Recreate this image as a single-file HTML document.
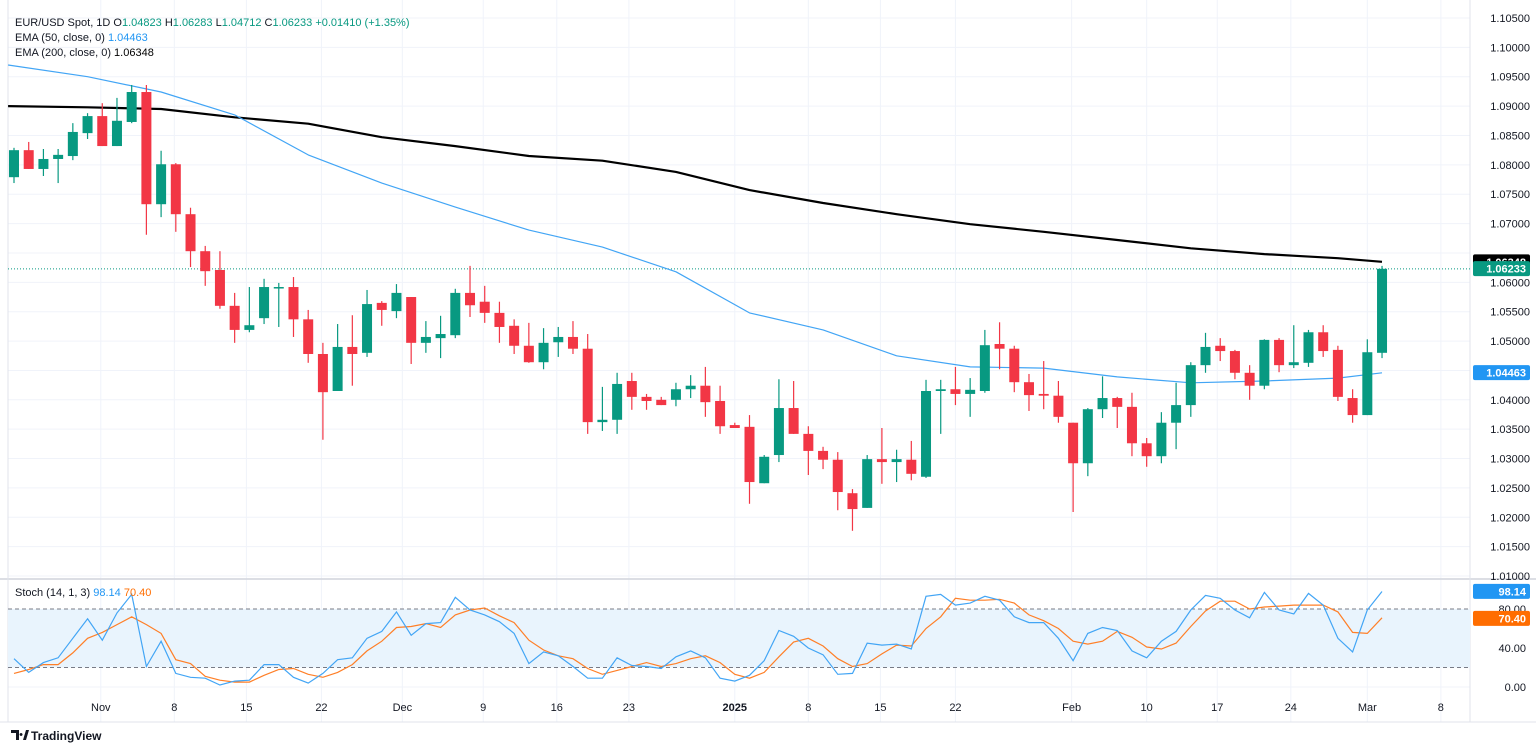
<!DOCTYPE html>
<html><head><meta charset="utf-8">
<style>
body{margin:0;background:#fff;font-family:"Liberation Sans",sans-serif;}
#wrap{position:relative;width:1536px;height:752px;overflow:hidden;background:#fff;}
svg text{font-family:"Liberation Sans",sans-serif;}
</style></head>
<body>
<div id="wrap">
<svg id="chart" width="1536" height="752"></svg>
</div>
<script>
const opens=[1.0779,1.0825,1.0793,1.0810,1.0815,1.0854,1.0883,1.0832,1.0873,1.0924,1.0733,1.0801,1.0716,1.0653,1.0621,1.0560,1.0519,1.0539,1.0590,1.0592,1.0537,1.0478,1.0415,1.0490,1.0480,1.0565,1.0551,1.0575,1.0497,1.0505,1.0510,1.0582,1.0567,1.0548,1.0526,1.0492,1.0464,1.0498,1.0507,1.0487,1.0362,1.0366,1.0432,1.0405,1.0400,1.0400,1.0418,1.0424,1.0398,1.0357,1.0354,1.0258,1.0306,1.0386,1.0342,1.0313,1.0298,1.0241,1.0216,1.0299,1.0294,1.0298,1.0269,1.0415,1.0418,1.0410,1.0415,1.0495,1.0487,1.0430,1.0410,1.0407,1.0361,1.0292,1.0384,1.0403,1.0388,1.0326,1.0304,1.0361,1.0391,1.0459,1.0492,1.0483,1.0446,1.0424,1.0502,1.0459,1.0463,1.0515,1.0485,1.0403,1.0374,1.0480];
const highs=[1.0829,1.0839,1.0827,1.0827,1.0871,1.0888,1.0905,1.0914,1.0936,1.0936,1.0824,1.0803,1.0727,1.0662,1.0653,1.0582,1.0592,1.0606,1.0599,1.0609,1.0553,1.0497,1.0529,1.0544,1.0587,1.0568,1.0597,1.0575,1.0534,1.0543,1.0589,1.0628,1.0594,1.0567,1.0537,1.0531,1.0522,1.0524,1.0534,1.0512,1.0422,1.0446,1.0446,1.0410,1.0405,1.0429,1.0442,1.0456,1.0424,1.0361,1.0374,1.0306,1.0435,1.0432,1.0355,1.0320,1.0311,1.0248,1.0306,1.0352,1.0315,1.0330,1.0434,1.0434,1.0456,1.0437,1.0519,1.0532,1.0492,1.0444,1.0466,1.0432,1.0361,1.0386,1.0440,1.0405,1.0412,1.0335,1.0379,1.0429,1.0464,1.0514,1.0505,1.0485,1.0459,1.0503,1.0505,1.0527,1.0519,1.0527,1.0492,1.0418,1.0503,1.0628];
const lows=[1.0769,1.0793,1.0781,1.0769,1.0808,1.0844,1.0832,1.0832,1.0871,1.0681,1.0711,1.0686,1.0626,1.0594,1.0555,1.0497,1.0515,1.0529,1.0524,1.0507,1.0463,1.0332,1.0415,1.0424,1.0473,1.0526,1.0539,1.0461,1.0480,1.0471,1.0505,1.0541,1.0531,1.0497,1.0478,1.0463,1.0452,1.0473,1.0478,1.0342,1.0347,1.0342,1.0383,1.0383,1.0391,1.0389,1.0403,1.0371,1.0342,1.0352,1.0223,1.0258,1.0294,1.0342,1.0272,1.0282,1.0212,1.0177,1.0216,1.0257,1.0260,1.0263,1.0267,1.0342,1.0391,1.0371,1.0412,1.0452,1.0413,1.0381,1.0384,1.0361,1.0209,1.0270,1.0369,1.0352,1.0304,1.0286,1.0292,1.0316,1.0371,1.0446,1.0466,1.0435,1.0400,1.0418,1.0447,1.0454,1.0456,1.0473,1.0398,1.0361,1.0374,1.0471];
const closes=[1.0825,1.0793,1.0810,1.0817,1.0856,1.0883,1.0832,1.0875,1.0924,1.0733,1.0801,1.0716,1.0653,1.0619,1.0560,1.0519,1.0527,1.0592,1.0592,1.0537,1.0478,1.0413,1.0490,1.0478,1.0563,1.0553,1.0582,1.0497,1.0507,1.0512,1.0582,1.0561,1.0548,1.0524,1.0492,1.0464,1.0497,1.0507,1.0487,1.0362,1.0366,1.0427,1.0405,1.0398,1.0391,1.0418,1.0424,1.0396,1.0355,1.0352,1.0260,1.0303,1.0386,1.0342,1.0313,1.0298,1.0243,1.0214,1.0299,1.0294,1.0299,1.0274,1.0415,1.0418,1.0410,1.0417,1.0493,1.0487,1.0430,1.0408,1.0407,1.0371,1.0292,1.0384,1.0403,1.0388,1.0326,1.0304,1.0361,1.0391,1.0459,1.0490,1.0483,1.0446,1.0424,1.0502,1.0459,1.0464,1.0515,1.0483,1.0405,1.0374,1.0481,1.0623];
const emaIdx=[0,5,10,15,20,25,30,35,40,45,50,55,60,65,70,75,80,85,90,93];
const ema50=[1.0970,1.0950,1.0924,1.0885,1.0817,1.0769,1.0728,1.0689,1.0660,1.0618,1.0548,1.0519,1.0475,1.0456,1.0454,1.0439,1.0429,1.0432,1.0437,1.0446];
const ema200=[1.0900,1.0898,1.0895,1.0881,1.0870,1.0847,1.0832,1.0815,1.0807,1.0788,1.0757,1.0735,1.0716,1.0699,1.0686,1.0672,1.0658,1.0648,1.0641,1.0635];
const stochK=[29,15,25,30,50,70,48,76,95,21,47,14,10,9,2,6,7,23,23,10,4,14,28,30,50,57,77,53,65,66,92,79,74,67,55,24,36,32,21,9,9,30,22,21,19,31,37,30,9,6,12,27,58,52,40,33,13,14,45,43,44,39,93,95,84,86,93,89,72,66,66,50,27,55,61,58,37,30,47,57,79,94,91,79,71,97,79,75,96,84,50,36,79,98];
const stochD=[14,18,23,23,35,50,56,64,72,64,55,28,24,11,7,5,5,12,18,19,13,10,15,23,37,47,61,62,65,61,74,79,81,73,66,48,38,32,29,19,13,17,21,25,21,24,29,32,25,13,9,15,31,46,50,42,29,21,24,34,43,42,60,72,91,89,89,90,86,74,68,60,47,44,47,57,51,41,39,45,62,78,88,88,80,82,83,84,84,84,77,56,55,71];
const priceTicks=[1.105,1.100,1.095,1.090,1.085,1.080,1.075,1.070,1.065,1.060,1.055,1.050,1.045,1.040,1.035,1.030,1.025,1.020,1.015,1.010];
const dateLabels=["Nov","8","15","22","Dec","9","16","23","2025","8","15","22","Feb","10","17","24","Mar","8"];
const dateIdx=[5.9,10.9,15.8,20.9,26.4,31.9,36.9,41.8,49,54,58.9,64,71.9,77,81.8,86.8,92,97];
const stochTicks=[80,40,0];

const NS="http://www.w3.org/2000/svg";
const svg=document.getElementById('chart');
const X0=14,DX=14.71,PL=8,PR=1470;
const xS=i=>X0+DX*i;
const yP=p=>18+(1.105-p)/0.005*29.37;
const yS=v=>687-v*0.975;
function el(tag,attrs,parent){const e=document.createElementNS(NS,tag);for(const k in attrs)e.setAttribute(k,attrs[k]);(parent||svg).appendChild(e);return e;}

const grid=el('g',{});


priceTicks.forEach(p=>{const l=el('line',{x1:PL,x2:PR,y1:yP(p),y2:yP(p),stroke:'#f0f3fa','stroke-width':1},grid);

});
dateIdx.forEach(d=>{const l=el('line',{x1:xS(d),x2:xS(d),y1:0,y2:722,stroke:'#f0f3fa','stroke-width':1},grid);

});
[40,0].forEach(v=>{const l=el('line',{x1:PL,x2:PR,y1:yS(v),y2:yS(v),stroke:'#f0f3fa'},grid);

});

const b1=el('line',{x1:0,x2:1536,y1:579,y2:579,stroke:'#d1d4dc','stroke-width':1.5});


const b2=el('line',{x1:PR,x2:PR,y1:0,y2:722,stroke:'#e0e3eb'});


const b3=el('line',{x1:0,x2:1536,y1:722,y2:722,stroke:'#e0e3eb'});


const b4=el('line',{x1:8,x2:8,y1:0,y2:722,stroke:'#e0e3eb'});



const band=el('rect',{x:PL,y:yS(80),width:PR-PL,height:yS(20)-yS(80),fill:'#e9f4fd'});


[80,20].forEach(v=>{const l=el('line',{x1:PL,x2:PR,y1:yS(v),y2:yS(v),stroke:'#787b86','stroke-dasharray':'4,3','stroke-width':1});

});

const lp=el('line',{x1:PL,x2:PR,y1:yP(closes[closes.length-1]),y2:yP(closes[closes.length-1]),stroke:'#089981','stroke-dasharray':'1,2','stroke-width':1});



function line(idx,vals,color,w,name){const pts=idx.map((d,k)=>xS(d).toFixed(1)+','+yP(vals[k]).toFixed(1)).join(' ');
const p=el('polyline',{points:pts,fill:'none',stroke:color,'stroke-width':w,'stroke-linejoin':'round'});

}
line([-0.4].concat(emaIdx.slice(1)),ema200,'#000',2.2,'ema-200-line');
line([-0.4].concat(emaIdx.slice(1)),ema50,'#42a5f5',1.2,'ema-50-line');

const cg=el('g',{});


for(let i=0;i<opens.length;i++){
 const up=closes[i]>=opens[i];const col=up?'#089981':'#f23645';const x=xS(i);
 const g=el('g',{},cg);
 
 
 el('line',{x1:x,x2:x,y1:yP(highs[i]),y2:yP(lows[i]),stroke:col,'stroke-width':1.2},g);
 const top=yP(Math.max(opens[i],closes[i])),bot=yP(Math.min(opens[i],closes[i]));
 el('rect',{x:x-5,y:top,width:10,height:Math.max(1.5,bot-top),fill:col},g);
}

function sline(vals,color,name){const pts=vals.map((v,i)=>xS(i).toFixed(1)+','+yS(v).toFixed(1)).join(' ');
const p=el('polyline',{points:pts,fill:'none',stroke:color,'stroke-width':1.2});

}
sline(stochD,'#ff7f27','stoch-d-line');
sline(stochK,'#42a5f5','stoch-k-line');

priceTicks.forEach(p=>{if(Math.abs(p-1.065)<1e-6)return;const t=el('text',{x:1530,y:yP(p)+4,'font-size':11,fill:'#131722','text-anchor':'end'});t.textContent=p.toFixed(5);

});
function tag(y,txt,bg,fg,name){const g=el('g',{});


el('rect',{x:1473,y:y-7.5,width:57,height:15,fill:bg,rx:2},g);
const t=el('text',{x:1526,y:y+4,'font-size':11,'font-weight':'bold',fill:fg,'text-anchor':'end'},g);t.textContent=txt;}
tag(yP(1.06348),'1.06348','#000','#fff','ema-200-price-tag');
tag(yP(1.06233),'1.06233','#089981','#fff','last-price-tag');
tag(yP(1.04463),'1.04463','#2196f3','#fff','ema-50-price-tag');
stochTicks.forEach(v=>{const t=el('text',{x:1526,y:yS(v)+4,'font-size':11,fill:'#131722','text-anchor':'end'});t.textContent=v.toFixed(2);

});
tag(yS(98.14),'98.14','#2196f3','#fff','stoch-k-tag');
tag(yS(70.40),'70.40','#ff6d00','#fff','stoch-d-tag');

dateLabels.forEach((s,k)=>{const t=el('text',{x:xS(dateIdx[k]),y:711,'font-size':11,fill:'#131722','text-anchor':'middle','font-weight':s==='2025'?'bold':'normal'});t.textContent=s;

});

function legend(y,parts,name){const t=el('text',{x:15,y:y,'font-size':11});


parts.forEach(([s,c])=>{const sp=el('tspan',{fill:c},t);sp.textContent=s;});}
legend(26,[['EUR/USD Spot, 1D  ','#131722'],['O','#131722'],['1.04823 ','#089981'],['H','#131722'],['1.06283 ','#089981'],['L','#131722'],['1.04712 ','#089981'],['C','#131722'],['1.06233 +0.01410 (+1.35%)','#089981']],'price-legend');
legend(41,[['EMA (50, close, 0)  ','#131722'],['1.04463','#2196f3']],'ema-50-legend');
legend(56,[['EMA (200, close, 0)  ','#131722'],['1.06348','#000']],'ema-200-legend');
legend(596,[['Stoch (14, 1, 3)  ','#131722'],['98.14 ','#2196f3'],['70.40','#ff6d00']],'stoch-legend');

const lg=el('g',{});


el('path',{d:'M11 730h8v10h-3v-7h-5z M21 733a1.5 1.5 0 1 0 0.1 0 M23 740l3-10h3l-3 10z',fill:'#131722'},lg);
const lt=el('text',{x:31,y:740,'font-size':12,'font-weight':'bold',fill:'#131722'},lg);lt.textContent='TradingView';
</script>
</body></html>
